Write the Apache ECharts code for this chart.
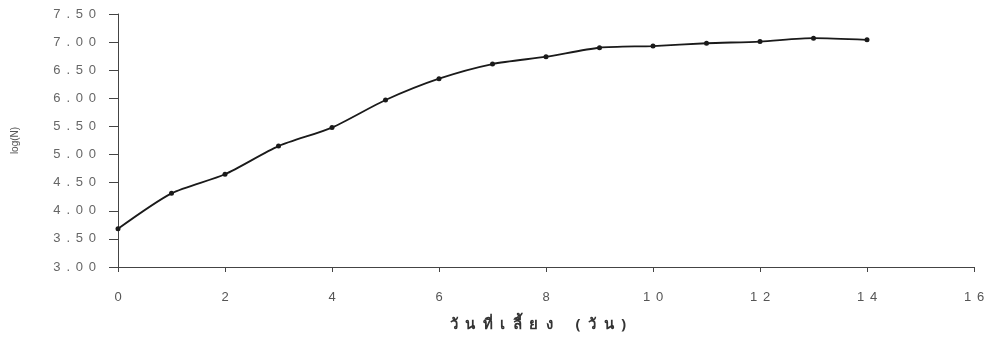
<!DOCTYPE html>
<html><head><meta charset="utf-8">
<script src="https://cdn.jsdelivr.net/npm/echarts@6/dist/echarts.min.js"></script>
<style>html,body{margin:0;padding:0;background:#fff}#c{width:989px;height:338px}</style>
</head><body><div id="c"></div>
<script>
const days = [0,1,2,3,4,5,6,7,8,9,10,11,12,13,14];
const logN = [3.68,4.31,4.65,5.15,5.48,5.97,6.35,6.61,6.74,6.90,6.93,6.98,7.01,7.07,7.04];
const xTitle = 'วันที่เลี้ยง (วัน)';
const yTitle = 'log(N)';
const yTicks = ['3.00','3.50','4.00','4.50','5.00','5.50','6.00','6.50','7.00','7.50'];

const spaced = s => s.split('').join(' \u2006');
const spacedTitle = s => {
  const out = [];
  for (const ch of s) {
    if (/[\u0E31\u0E34-\u0E3A\u0E47-\u0E4E]/.test(ch) && out.length) out[out.length-1] += ch;
    else if (ch !== ' ') out.push(ch);
    else out.push('\u2002');
  }
  return out.join('\u2002');
};
const chart = echarts.init(document.getElementById('c'));
chart.setOption({
  animation:false,
  backgroundColor:'#fff',
  grid:{left:118,right:15,top:14,bottom:71},
  xAxis:{type:'value',min:0,max:16,interval:2,
    name:spacedTitle(xTitle),nameLocation:'middle',nameGap:50,
    nameTextStyle:{fontSize:15,fontWeight:'bold',color:'#333',padding:[0,16,0,0],fontFamily:'Noto Sans, DejaVu Sans, sans-serif'},
    axisLine:{lineStyle:{color:'#444',width:1}},
    axisTick:{show:true,length:5,lineStyle:{color:'#444'}},
    axisLabel:{margin:24,fontSize:13,color:'#555',fontFamily:'Liberation Sans Narrow, Liberation Sans, sans-serif',formatter:v=>spaced(String(v))},
    splitLine:{show:false}},
  yAxis:{type:'value',min:3,max:7.5,interval:0.5,
    name:yTitle,nameLocation:'middle',nameGap:98,nameRotate:90,
    nameTextStyle:{fontSize:10,color:'#555',fontFamily:'Liberation Sans, sans-serif'},
    axisLine:{show:true,lineStyle:{color:'#444',width:1}},
    axisTick:{show:true,inside:false,length:9,lineStyle:{color:'#444'}},
    axisLabel:{margin:22,fontSize:13,color:'#666',fontFamily:'Liberation Sans, sans-serif',
      formatter:(v)=>{const i=Math.round((v-3)/0.5);return spaced(yTicks[i]||v.toFixed(2));}},
    splitLine:{show:false}},
  series:[{type:'line',data:days.map((d,i)=>[d,logN[i]]),smooth:0.25,
    symbol:'circle',symbolSize:5,
    itemStyle:{color:'#1a1a1a'},lineStyle:{color:'#1a1a1a',width:1.8}}]
});
</script></body></html>
